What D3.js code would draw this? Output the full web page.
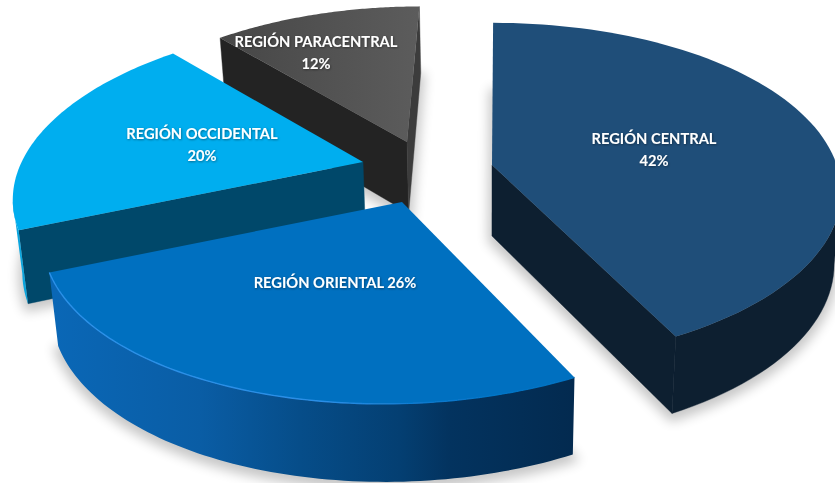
<!DOCTYPE html>
<html><head><meta charset="utf-8">
<script src="https://cdn.jsdelivr.net/npm/d3@7/dist/d3.min.js"></script>
<style>html,body{margin:0;padding:0;background:#fff;overflow:hidden}svg{display:block}
text{font-family:Lato,"Open Sans",sans-serif;font-weight:700;font-size:14.7px;fill:#fff;text-anchor:middle}</style>
</head><body><svg id="c" width="835" height="483"></svg>
<script>
// Data
const categories = ["REGIÓN CENTRAL","REGIÓN ORIENTAL","REGIÓN OCCIDENTAL","REGIÓN PARACENTRAL"];
const values = [42.4,26.2,19.7,11.7];
const labelLines = [["REGIÓN CENTRAL","42%"],["REGIÓN ORIENTAL 26%"],["REGIÓN OCCIDENTAL","20%"],["REGIÓN PARACENTRAL","12%"]];

// Layout and style, separate from the data
const W=835,H=483;
const rotation=0, vx=500, persp=.159, Rx=338, Ry=162, thick=71, shrink=.98, vx2=490;
const apexX=[492,402,363,407], apexY=[165,202,162,142], sizeK=[1.02,1.04,1.01,.965];
const labelPos=[[654,139],[335,283],[202,134],[316,42]];
const topFill=["#1f4e79","#0070c0","#00aeef","url(#paraTop)"];
const cutFillEnd=["#0d1f30","#0070c0","#00486a","#3c3c3c"];
const cutFillStart=["#0d1f30","#0070c0","#00486a","#232323"];
const sideFill=["#0d1f30","url(#oriSide)","#0aa5de","#2f2f2f"];
const paintOrder=[3,2,0,1];

const svg=d3.select("#c");
const defs=svg.append("defs");
const grad=(id,stops)=>{const g=defs.append("linearGradient").attr("id",id).attr("gradientUnits","userSpaceOnUse")
  .attr("x1",stops[0][0]).attr("x2",stops[stops.length-1][0]).attr("y1",0).attr("y2",0);
  const a=stops[0][0],b=stops[stops.length-1][0];
  stops.forEach(s=>g.append("stop").attr("offset",(s[0]-a)/(b-a)).attr("stop-color",s[1]));};
grad("oriSide",[[55,"#0a67b6"],[200,"#0a5da5"],[300,"#064d89"],[400,"#043f72"],[450,"#03335f"],[577,"#032a4f"]]);
grad("paraTop",[[217,"#464646"],[419,"#5c5c5c"]]);
grad("oriRim",[[48,"#2a90e8"],[330,"#2a8ee6"],[430,"#0a78cc"],[577,"#0070c0"]]);
const blur=(id,sd)=>defs.append("filter").attr("id",id).attr("x","-30%").attr("y","-30%").attr("width","160%").attr("height","160%")
  .append("feGaussianBlur").attr("stdDeviation",sd);
blur("shadow",6);blur("soft",.7);
const txt=defs.append("filter").attr("id","tshadow").attr("x","-10%").attr("y","-30%").attr("width","120%").attr("height","160%");
txt.append("feDropShadow").attr("dx",.6).attr("dy",.8).attr("stdDeviation",.8).attr("flood-color","#000").attr("flood-opacity",.45);

const pie=d3.pie().sort(null).value(d=>d).startAngle(rotation).endAngle(2*Math.PI+rotation);
const arcs=pie(values);
const line=d3.line();
function proj(i,a,r){ // a: clockwise from the back of the pie; r: 0..1
  const X=Math.sin(a)*r*sizeK[i], Y=-Math.cos(a)*r*sizeK[i], s=1/(1-persp*Y);
  return [vx+(apexX[i]-vx+X*Rx)*s, apexY[i]+Ry*Y*s, s];
}
const low=p=>[vx2+(p[0]-vx2)*shrink, p[1]+thick*(1+.5*(p[2]-1))];
function arcPts(i){const d=arcs[i],n=80;
  return d3.range(n+1).map(j=>proj(i,d.startAngle+(d.endAngle-d.startAngle)*j/n,1));}
const topPath=i=>line([[apexX[i],apexY[i]],...arcPts(i).map(p=>[p[0],p[1]])])+"Z";

const root=svg.append("g");
paintOrder.forEach(i=>{
  const g=root.append("g"), pts=arcPts(i), A=[apexX[i],apexY[i],1];
  const mid=pts[40];
  // shadow
  g.append("path").attr("d",line([low(A),...pts.map(low)])+"Z").attr("fill","#000").attr("stroke","#000").attr("stroke-width",8)
    .attr("opacity",.22).attr("filter","url(#shadow)").attr("transform","translate(0,4)");
  // cut faces, only those turned toward the viewer
  [[pts[0],cutFillStart[i]],[pts[80],cutFillEnd[i]]].forEach(([c,f])=>{
    const ex=c[0]-A[0],ey=c[1]-A[1];
    const crossD=ex, crossI=ex*(mid[1]-A[1])-ey*(mid[0]-A[0]);
    if(crossD*crossI<0) g.append("path").attr("d",line([A,c,low(c),low(A)].map(p=>[p[0],p[1]]))+"Z").attr("fill",f).attr("stroke",f).attr("stroke-width",.4);
  });
  // outer wall: the stretches of the rim that run right-to-left on screen face the viewer
  const runs=[];let cur=null;
  pts.forEach((p,j)=>{ if(j==0) return;
    const vis=p[0]<pts[j-1][0];
    if(vis){ if(!cur){cur=[pts[j-1]];runs.push(cur);} cur.push(p);} else cur=null;});
  runs.forEach(r=>{
    g.append("path").attr("d",line([...r.map(p=>[p[0],p[1]]),...r.slice().reverse().map(low).map(p=>[p[0],p[1]])])+"Z").attr("fill",sideFill[i]).attr("stroke",i==0?sideFill[i]:"none").attr("stroke-width",.4);
  });
  g.append("path").attr("d",topPath(i)).attr("fill",topFill[i]);
  if(i==1) g.append("path").attr("d",line(pts.map(p=>[p[0],p[1]]))).attr("fill","none").attr("stroke","url(#oriRim)").attr("stroke-width",1.4).attr("filter","url(#soft)");
});
// labels
labelLines.forEach((ls,i)=>{
  const t=svg.append("text").attr("filter","url(#tshadow)").attr("aria-label",categories[i]);
  ls.forEach((l,j)=>t.append("tspan").attr("x",labelPos[i][0]).attr("y",labelPos[i][1]+5+j*22).text(l));
});
</script></body></html>
